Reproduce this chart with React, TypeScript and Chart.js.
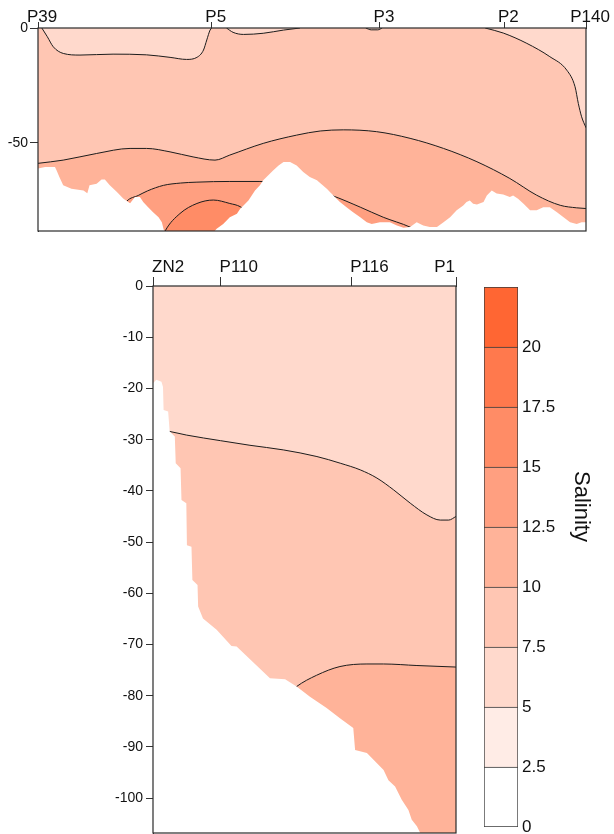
import React, { useEffect, useRef } from 'react';
import { Chart, registerables } from 'chart.js';

Chart.register(...registerables);

type Pt = [number, number];

const FONT = "'Liberation Sans', Arial, Helvetica, sans-serif";

// ---- salinity classes (colour bar) ----
const salinityEdges = [0, 2.5, 5, 7.5, 10, 12.5, 15, 17.5, 20, 22.5];
const salinityColors = ['#ffffff', '#ffece6', '#ffd9cc', '#ffc6b3', '#ffb399', '#ff9f80', '#ff8c66', '#ff794d', '#ff6633'];
const salinityTicks = [0, 2.5, 5, 7.5, 10, 12.5, 15, 17.5, 20];

// ---- upper section P39 -> P140 (distance in % of section, depth in m) ----
const topStations = ['P39', 'P5', 'P3', 'P2', 'P140'];
const topStationKm = [0, 31.7, 62.4, 85.1, 100];
const topDepthTicks = [0, -50];
const topDepthMin = -88.5;

const topLensA: Pt[] = [[0.7, 0], [1.7, -3.8], [2.79, -8.2], [4.62, -11.1], [7.66, -11.8], [13.7, -11.4], [19.8, -11.7], [24.1, -12.8], [27.1, -13.7], [29.0, -12.8], [30.2, -9.6], [30.8, -5.2], [31.4, -0.9], [31.7, 0]];
const topLensB: Pt[] = [[34.4, 0], [35.6, -1.9], [37.5, -2.8], [41.1, -2.3], [44.8, -0.9], [47.8, 0]];
const topLensC: Pt[] = [[59.8, 0], [60.8, -0.8], [62.0, -0.8], [62.8, 0]];
const topLensD: Pt[] = [[81.6, 0], [84.9, -2.2], [89.2, -6.7], [93.4, -12.5], [96.5, -18.4], [98.0, -25.6], [98.6, -32.9], [99.2, -38.7], [100, -43.5]];
const topIso10: Pt[] = [[0, -59.0], [4.6, -57.6], [10.7, -54.7], [16.8, -52.5], [19.8, -52.5], [24.1, -54.0], [28.3, -56.2], [32.3, -57.6], [35.0, -55.4], [41.1, -50.3], [47.2, -46.7], [51.5, -44.9], [55.7, -44.4], [61.8, -45.2], [67.9, -48.1], [74.0, -52.5], [80.1, -58.3], [86.1, -65.6], [91.0, -72.9], [95.3, -77.3], [98.3, -78.4], [100, -78.7]];
const topIso12: Pt[] = [[14.0, -84.0], [16.2, -75.5], [18.3, -73.0], [20.0, -71.0], [22.9, -68.6], [26.0, -67.6], [29.0, -67.2], [35.0, -66.9], [40.5, -66.9], [46.0, -68.0], [50.0, -70.5], [53.6, -73.0], [58.8, -78.1], [63.0, -82.5], [67.9, -86.8], [70.0, -89.5]];
const topIso15: Pt[] = [[22.6, -92.0], [23.2, -88.5], [25.9, -80.9], [29.0, -76.5], [32.0, -75.0], [35.0, -76.5], [36.9, -77.9], [39.0, -82.0], [41.0, -89.0]];
const topSeabed: Pt[] = [[0, -61.2], [1.3, -60.6], [3.1, -60.6], [3.4, -62.1], [3.9, -65.0], [4.6, -68.6], [6.1, -70.1], [8.3, -70.8], [9.0, -72.0], [9.4, -68.6], [10.7, -67.9], [11.6, -66.1], [12.2, -66.1], [13.1, -68.6], [14.4, -71.5], [15.6, -74.4], [16.8, -76.4], [17.7, -73.7], [18.6, -73.7], [19.2, -75.9], [20.1, -78.1], [21.0, -80.3], [22.0, -82.5], [22.6, -84.7], [22.9, -87.5], [23.2, -90], [31.7, -90], [32.6, -87.5], [33.8, -85.4], [35.0, -82.5], [36.3, -81.0], [36.9, -78.8], [37.5, -77.4], [38.4, -75.2], [39.0, -73.0], [39.6, -70.8], [40.5, -68.6], [41.1, -66.4], [41.7, -65.0], [42.9, -62.1], [43.9, -59.9], [44.8, -58.4], [46.0, -58.4], [47.2, -59.9], [48.4, -62.8], [49.6, -65.0], [50.9, -66.4], [52.7, -70.1], [53.9, -73.0], [55.1, -75.9], [56.3, -78.1], [57.5, -80.3], [58.8, -82.5], [60.0, -84.7], [60.9, -85.4], [62.4, -84.7], [64.2, -84.7], [65.5, -86.1], [66.7, -87.1], [67.9, -86.8], [69.1, -84.7], [70.3, -86.1], [71.5, -86.8], [72.8, -86.8], [74.0, -84.7], [75.2, -82.5], [76.4, -79.5], [77.6, -77.4], [78.2, -75.9], [78.8, -75.2], [79.4, -76.6], [80.1, -76.9], [81.3, -75.9], [81.9, -73.0], [82.8, -70.8], [83.7, -72.2], [84.9, -72.6], [86.1, -73.7], [86.7, -73.0], [87.6, -74.4], [88.6, -76.6], [89.8, -79.5], [91.0, -79.5], [92.2, -78.1], [93.4, -78.1], [94.7, -80.3], [95.9, -82.5], [97.1, -84.7], [98.3, -85.4], [99.2, -84.7], [100, -84.7]];

// ---- lower section ZN2 -> P1 ----
const botStations = ['ZN2', 'P110', 'P116', 'P1'];
const botStationKm = [0, 22.3, 65.4, 100];
const botDepthTicks = [0, -10, -20, -30, -40, -50, -60, -70, -80, -90, -100];
const botDepthMin = -106.8;

const botIso7: Pt[] = [[0, -28.0], [5.5, -28.4], [11.0, -29.1], [22.3, -30.2], [32.0, -31.1], [43.0, -32.0], [54.1, -33.3], [61.8, -34.6], [68.4, -35.9], [73.9, -37.5], [79.4, -39.8], [84.9, -42.4], [90.4, -44.7], [94.8, -45.7], [97.6, -45.7], [100, -45.0]];
const botIso10: Pt[] = [[44.0, -80.0], [47.4, -78.2], [54.0, -76.0], [61.7, -74.3], [70.6, -73.8], [76.1, -73.8], [87.1, -74.1], [100, -74.4]];
const botSeabed: Pt[] = [[0, -19.0], [1.1, -18.3], [2.8, -18.7], [3.3, -19.7], [3.5, -24.2], [5.0, -24.5], [5.5, -28.4], [7.2, -29.4], [7.5, -34.6], [9.1, -35.6], [9.4, -41.8], [11.0, -42.4], [11.2, -50.6], [12.7, -50.9], [13.0, -57.4], [14.7, -58.4], [14.9, -62.6], [16.5, -64.9], [21.0, -67.1], [25.9, -70.3], [27.6, -70.4], [38.6, -76.6], [43.6, -76.8], [47.4, -78.2], [51.8, -80.2], [57.3, -82.4], [61.7, -84.4], [66.1, -86.3], [66.7, -90.6], [70.6, -91.2], [76.1, -94.5], [77.7, -96.5], [79.9, -97.7], [82.1, -100.3], [84.3, -102.3], [85.4, -104.2], [87.1, -105.5], [88.2, -106.8], [90, -110]];

// ---------------------------------------------------------------
const toXY = (pts: Pt[]) => pts.map(([x, y]) => ({ x, y }));

const layer = (pts: Pt[], fill: string, color: string, contour: boolean) => ({
  data: toXY(pts),
  fill,
  backgroundColor: color,
  borderColor: contour ? '#1c1c1c' : 'rgba(0,0,0,0)',
  borderWidth: contour ? 1 : 0,
  pointRadius: 0,
  pointHoverRadius: 0,
  cubicInterpolationMode: contour ? 'monotone' : 'default',
  tension: 0,
});

const ordered = (sets: any[]) => sets.map((d, i) => ({ ...d, order: sets.length - i }));

const framePlugin = {
  id: 'frame',
  afterDatasetsDraw(chart: any) {
    const { ctx, chartArea: a } = chart;
    ctx.save();
    ctx.strokeStyle = '#2a2a2a';
    ctx.lineWidth = 1.2;
    ctx.strokeRect(a.left, a.top, a.right - a.left, a.bottom - a.top);
    ctx.restore();
  },
};

const stationAxis = (km: number[], names: string[], o: any) => ({
  type: 'linear',
  position: 'top',
  min: 0,
  max: 100,
  afterBuildTicks: (s: any) => { s.ticks = km.map((v) => ({ value: v })); },
  afterFit: (s: any) => { s.height = o.height; s.paddingLeft = 0; s.paddingRight = 0; },
  ticks: {
    autoSkip: false, maxRotation: 0, minRotation: 0,
    padding: o.padding, labelOffset: o.labelOffset, align: o.align,
    color: '#111', font: { family: FONT, size: 17 },
    callback: (_v: any, i: number) => names[i],
  },
  grid: { drawOnChartArea: false, drawTicks: true, tickLength: o.tickLength, color: '#333', lineWidth: 1 },
  border: { display: true, color: '#333', width: 1 },
});

const depthAxis = (min: number, ticks: number[], o: any) => ({
  type: 'linear',
  position: 'left',
  min,
  max: 0,
  afterBuildTicks: (s: any) => { s.ticks = ticks.map((v) => ({ value: v })); },
  afterFit: (s: any) => { s.width = o.width; s.paddingTop = 0; s.paddingBottom = 0; },
  ticks: { padding: o.padding, color: '#111', font: { family: FONT, size: 14 }, callback: (v: any) => String(v) },
  grid: { drawOnChartArea: false, drawTicks: true, tickLength: o.tickLength, color: '#333', lineWidth: 1 },
  border: { display: true, color: '#333', width: 1 },
});

const baseOptions = (padding: any, scales: any) => ({
  responsive: false,
  animation: false,
  devicePixelRatio: 1,
  layout: { padding },
  plugins: { legend: { display: false }, tooltip: { enabled: false }, title: { display: false } },
  events: [],
  scales,
});

const lastLabelRight = {
  id: 'lastLabelRight',
  beforeDraw(chart: any) {
    const s = chart.scales.x;
    if (!s || typeof s.getLabelItems !== 'function') return;
    const items = s.getLabelItems();
    const last = items && items[items.length - 1];
    if (last) last.options.textAlign = 'right';
  },
};

const salinityTitle = {
  id: 'salinityTitle',
  afterDraw(chart: any) {
    const { ctx, chartArea } = chart;
    ctx.save();
    ctx.translate(chartArea.right + 57, 236.5);
    ctx.rotate(Math.PI / 2);
    ctx.font = `22px ${FONT}`;
    ctx.fillStyle = '#111';
    ctx.textAlign = 'center';
    ctx.textBaseline = 'alphabetic';
    ctx.fillText('Salinity', 0, 0);
    ctx.restore();
  },
};

export default function App() {
  const topRef = useRef<HTMLCanvasElement>(null);
  const botRef = useRef<HTMLCanvasElement>(null);
  const barRef = useRef<HTMLCanvasElement>(null);

  useEffect(() => {
    const c = salinityColors;
    const topSets = ordered([
      layer([[0, 0], [100, 0]], 'start', c[3], false),
      layer(topLensA, 'end', c[2], true),
      layer(topLensB, 'end', c[2], true),
      layer(topLensC, 'end', c[2], true),
      layer(topLensD, 'end', c[2], true),
      layer(topIso10, 'start', c[4], true),
      layer(topIso12, 'start', c[5], true),
      layer(topIso15, 'start', c[6], true),
      layer(topSeabed, 'start', '#ffffff', false),
    ]);
    const top = new Chart(topRef.current as HTMLCanvasElement, {
      type: 'line',
      data: { datasets: topSets as any },
      options: baseOptions({ left: 0, top: 0, right: 28, bottom: 9 }, {
        x: stationAxis(topStationKm, topStations, { height: 28, padding: -6, labelOffset: 4, align: 'center', tickLength: 6 }),
        y: depthAxis(topDepthMin, topDepthTicks, { width: 38, padding: 2, tickLength: 8 }),
      }) as any,
      plugins: [framePlugin],
    });

    const botSets = ordered([
      layer([[0, 0], [100, 0]], 'start', c[2], false),
      layer(botIso7, 'start', c[3], true),
      layer(botIso10, 'start', c[4], true),
      layer(botSeabed, 'start', '#ffffff', false),
    ]);
    const bot = new Chart(botRef.current as HTMLCanvasElement, {
      type: 'line',
      data: { datasets: botSets as any },
      options: baseOptions({ left: 0, top: 0, right: 24, bottom: 1 }, {
        x: stationAxis(botStationKm, botStations, { height: 36, padding: -1, labelOffset: -1, align: 'start', tickLength: 9 }),
        y: depthAxis(botDepthMin, botDepthTicks, { width: 53, padding: 3, tickLength: 7 }),
      }) as any,
      plugins: [framePlugin, lastLabelRight],
    });

    const barSets = salinityColors.map((col, i) => ({
      data: [[salinityEdges[i], salinityEdges[i + 1]]],
      backgroundColor: col,
      borderColor: '#3a3a3a',
      borderWidth: { top: 1, left: 1, right: 1, bottom: i === 0 ? 1 : 0 },
      borderSkipped: false,
      barPercentage: 1,
      categoryPercentage: 1,
      grouped: false,
    }));
    const bar = new Chart(barRef.current as HTMLCanvasElement, {
      type: 'bar',
      data: { labels: [''], datasets: barSets as any },
      options: baseOptions({ left: 24, top: 17, right: 0, bottom: 7 }, {
        x: { display: false },
        y: {
          type: 'linear',
          position: 'right',
          min: 0,
          max: 22.5,
          afterBuildTicks: (s: any) => { s.ticks = salinityTicks.map((v) => ({ value: v })); },
          afterFit: (s: any) => { s.width = 96; s.paddingTop = 0; s.paddingBottom = 0; },
          ticks: { padding: 4, color: '#111', font: { family: FONT, size: 17 }, callback: (v: any) => String(v) },
          grid: { display: false, drawTicks: false },
          border: { display: false },
        },
      }) as any,
      plugins: [salinityTitle],
    });

    return () => { top.destroy(); bot.destroy(); bar.destroy(); };
  }, []);

  return (
    <div style={{ position: 'absolute', left: 0, top: 0, width: 614, height: 834, overflow: 'hidden', background: '#fff' }}>
      <canvas ref={topRef} width={614} height={240} style={{ position: 'absolute', left: 0, top: 0 }} />
      <canvas ref={botRef} width={380} height={584} style={{ position: 'absolute', left: 100, top: 250 }} />
      <canvas ref={barRef} width={154} height={564} style={{ position: 'absolute', left: 460, top: 270 }} />
    </div>
  );
}
